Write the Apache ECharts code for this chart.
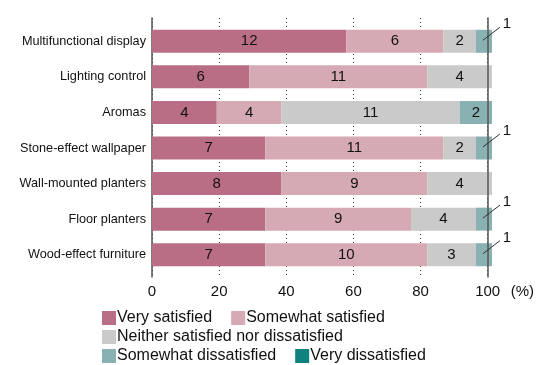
<!DOCTYPE html>
<html>
<head>
<meta charset="utf-8">
<script src="https://cdn.jsdelivr.net/npm/echarts@6/dist/echarts.min.js"></script>
<style>html,body{margin:0;padding:0;background:#fff}#c{width:537px;height:365px}</style>
</head>
<body>
<div id="c"></div>
<script>
const categories = ['Multifunctional display','Lighting control','Aromas','Stone-effect wallpaper','Wall-mounted planters','Floor planters','Wood-effect furniture'];
const seriesNames = ['Very satisfied','Somewhat satisfied','Neither satisfied nor dissatisfied','Somewhat dissatisfied','Very dissatisfied'];
const verySatisfied = [12, 6, 4, 7, 8, 7, 7];
const somewhatSatisfied = [6, 11, 4, 11, 9, 9, 10];
const neither = [2, 4, 11, 2, 4, 4, 3];
const somewhatDissatisfied = [1, 0, 2, 1, 0, 1, 1];
const veryDissatisfied = [0, 0, 0, 0, 0, 0, 0];
const xTicks = [0, 20, 40, 60, 80, 100];

const colors = ['#b96e85', '#d6aab4', '#c9cac9', '#8ab1b2', '#0e837d'];
const counts = [verySatisfied, somewhatSatisfied, neither, somewhatDissatisfied, veryDissatisfied];
const totals = categories.map((_, i) => counts.reduce((s, a) => s + a[i], 0));
const FONT = 'Liberation Sans';

const series = counts.map((arr, si) => ({
  name: seriesNames[si],
  type: 'bar',
  stack: 'total',
  xAxisIndex: 0, yAxisIndex: 0,
  barWidth: 23,
  itemStyle: { color: colors[si] },
  data: arr.map((v, i) => v ? { value: v / totals[i] * 100, count: v } : null),
  label: {
    show: true,
    position: 'inside',
    color: '#111',
    fontFamily: FONT,
    fontSize: 15,
    formatter: p => (!p.data || (si === 3 && p.data.count === 1)) ? '' : String(p.data.count)
  },
  emphasis: { disabled: true }
}));

// small segments labelled outside with a leader line (value 1 in "Somewhat dissatisfied")
const calloutData = [];
somewhatDissatisfied.forEach((v, i) => {
  if (v === 1) {
    const before = counts.slice(0, 3).reduce((s, a) => s + a[i], 0);
    calloutData.push([(before + v / 2) / totals[i] * 100, i, v]);
  }
});
series.push({
  type: 'custom',
  xAxisIndex: 0, yAxisIndex: 0,
  z: 10,
  silent: true,
  data: calloutData,
  encode: { x: 0, y: 1 },
  renderItem: function (params, api) {
    const p = api.coord([api.value(0), api.value(1)]);
    return {
      type: 'group',
      children: [
        { type: 'line', shape: { x1: p[0] - 1, y1: p[1] - 1, x2: p[0] + 16, y2: p[1] - 14 },
          style: { stroke: '#333', lineWidth: 1 } },
        { type: 'text', style: { text: String(api.value(2)), x: p[0] + 23, y: p[1] - 17,
          align: 'center', verticalAlign: 'middle', font: '15px "Liberation Sans"', fill: '#111' } }
      ]
    };
  }
});

const chart = echarts.init(document.getElementById('c'), null, { renderer: 'canvas' });
chart.setOption({
  animation: false,
  backgroundColor: '#fff',
  textStyle: { fontFamily: FONT },
  grid: [
    { left: 152, right: 45, top: 23.5, bottom: 92.5 },
    { left: 152, right: 45, top: 18, bottom: 88 }
  ],
  xAxis: [
    { gridIndex: 0, type: 'value', min: 0, max: 100, show: false },
    {
      gridIndex: 1, type: 'value', min: xTicks[0], max: xTicks[xTicks.length - 1], interval: 20,
      axisLine: { show: false }, axisTick: { show: false },
      axisLabel: { margin: 7, color: '#111', fontSize: 15, fontFamily: FONT },
      splitLine: { show: true, lineStyle: { type: [1, 3], color: '#333', width: 1 } },
      name: '(%)', nameLocation: 'end', nameGap: 23,
      nameTextStyle: { color: '#111', fontSize: 15, fontFamily: FONT, verticalAlign: 'top', padding: [7, 0, 0, 0] }
    }
  ],
  yAxis: [
    {
      gridIndex: 0, type: 'category', data: categories, inverse: true,
      axisLine: { show: false }, axisTick: { show: false },
      axisLabel: { margin: 6, color: '#111', fontSize: 12.7, fontFamily: FONT }
    },
    {
      gridIndex: 1, type: 'value', min: 0, max: 1, position: 'left',
      axisLine: { show: true, lineStyle: { color: '#555', width: 1.5 } },
      axisTick: { show: false }, axisLabel: { show: false }, splitLine: { show: false }
    },
    {
      gridIndex: 1, type: 'value', min: 0, max: 1, position: 'right', z: 5,
      axisLine: { show: true, lineStyle: { color: '#555', width: 1.5 } },
      axisTick: { show: false }, axisLabel: { show: false }, splitLine: { show: false }
    }
  ],
  legend: [
    { data: [seriesNames[0], seriesNames[1]], left: 102, top: 310 },
    { data: [seriesNames[2]], left: 102, top: 329 },
    { data: [seriesNames[3], seriesNames[4]], left: 102, top: 348 }
  ].map(l => Object.assign(l, {
    orient: 'horizontal', itemWidth: 14, itemHeight: 14, itemGap: 19, padding: 0,
    icon: 'rect', selectedMode: false,
    textStyle: { color: '#111', fontSize: 16, fontFamily: FONT, padding: [0, 0, 0, -4] }
  })),
  series: series
});
</script>
</body>
</html>
